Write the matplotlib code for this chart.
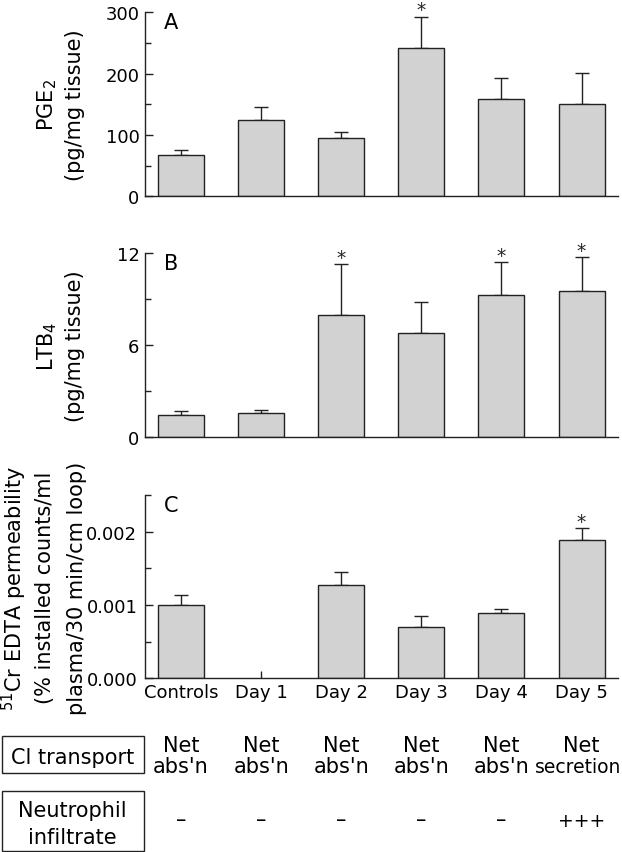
import numpy as np
import matplotlib
matplotlib.use("Agg")
import matplotlib.pyplot as plt
from matplotlib.patches import Rectangle
from matplotlib.ticker import MultipleLocator, FormatStrFormatter
import matplotlib.transforms as mtransforms

# data
groups = ["Controls", "Day 1", "Day 2", "Day 3", "Day 4", "Day 5"]

pge2 = [67, 124, 95, 241, 158, 150]
pge2_sem = [8, 21, 10, 52, 35, 51]
pge2_sig = [False, False, False, True, False, False]

ltb4 = [1.40, 1.53, 7.96, 6.81, 9.27, 9.53]
ltb4_sem = [0.30, 0.19, 3.34, 2.03, 2.14, 2.21]
ltb4_sig = [False, False, True, False, True, True]

edta = [0.00100, np.nan, 0.001277, 0.000695, 0.00089, 0.00188]
edta_sem = [0.00014, np.nan, 0.00017, 0.000155, 0.000055, 0.000165]
edta_sig = [False, False, False, False, False, True]

cl_transport = ["Net\nabs'n"] * 5 + ["Net\nsecretion"]
neutrophil = ["–", "–", "–", "–", "–", "+++"]

plt.rcParams['font.family'] = ['DejaVu Sans']
plt.rcParams['mathtext.fontset'] = 'dejavusans'

W, H = 622, 853
fig = plt.figure(figsize=(W / 100, H / 100), dpi=100)


def fx(px):
    return px / W


def fy(px):
    return 1 - px / H


dark = '#222222'
bar_col = '#d2d2d2'
x = np.arange(len(groups))

ax_left, ax_right = 145, 617.6


def make_axes(top, bottom):
    return fig.add_axes([fx(ax_left), fy(bottom), fx(ax_right - ax_left), (bottom - top) / H])


def draw_panel(ax, vals, sem, sig, ymax, major, minor, fmt, letter, pad):
    vals = np.array(vals, dtype=float)
    sem = np.array(sem, dtype=float)
    ok = ~np.isnan(vals)
    ax.bar(x[ok], vals[ok], width=0.575, color=bar_col, edgecolor=dark, linewidth=1.0, zorder=2)
    ax.errorbar(x[ok], vals[ok], yerr=[np.zeros(ok.sum()), sem[ok]], fmt='none',
                ecolor=dark, elinewidth=1.0, capsize=5, capthick=1.0, zorder=1.5)
    for i in range(len(groups)):
        if sig[i]:
            ax.annotate('*', (x[i], vals[i] + sem[i]), xytext=(0, 1), textcoords='offset points',
                        ha='center', va='baseline', fontsize=13.5, color=dark)
    ax.set_xlim(-0.45, 5.45)
    ax.set_ylim(0, ymax)
    ax.set_axisbelow(True)
    for s in ['top', 'right']:
        ax.spines[s].set_visible(False)
    for s in ['left', 'bottom']:
        ax.spines[s].set_color(dark)
        ax.spines[s].set_linewidth(1.0)
    ax.yaxis.set_major_locator(MultipleLocator(major))
    ax.yaxis.set_minor_locator(MultipleLocator(minor))
    ax.yaxis.set_major_formatter(FormatStrFormatter(fmt))
    ax.tick_params(axis='y', which='major', direction='in', length=5.5, width=1.0,
                   color=dark, labelsize=13, pad=pad)
    ax.tick_params(axis='y', which='minor', direction='in', length=4, width=1.0, color=dark)
    ax.set_xticks(x)
    ax.tick_params(axis='x', direction='in', length=5, width=1.0, color=dark, labelsize=13, pad=3.5)
    ax.text(0.04, 1.0, letter, transform=ax.transAxes, ha='left', va='top', fontsize=15)


axA = make_axes(13.3, 197.3)
draw_panel(axA, pge2, pge2_sem, pge2_sig, 300, 100, 50, '%d', 'A', 4)
axA.set_xticklabels([])

axB = make_axes(254.3, 437.7)
draw_panel(axB, ltb4, ltb4_sem, ltb4_sig, 12, 6, 3, '%d', 'B', 4)
axB.set_xticklabels([])

axC = make_axes(496, 679.3)
draw_panel(axC, edta, edta_sem, edta_sig, 0.0025, 0.001, 0.0005, '%.3f', 'C', 5.5)
axC.set_xticklabels(groups)

# y labels
fig.text(fx(47), fy(105.3), r'PGE$_2$', rotation=90, ha='center', va='center', fontsize=15)
fig.text(fx(75), fy(105.3), '(pg/mg tissue)', rotation=90, ha='center', va='center', fontsize=15)
fig.text(fx(47), fy(346), r'LTB$_4$', rotation=90, ha='center', va='center', fontsize=15)
fig.text(fx(75), fy(346), '(pg/mg tissue)', rotation=90, ha='center', va='center', fontsize=15)
fig.text(fx(14), fy(588), r'$^{51}$Cr EDTA permeability', rotation=90, ha='center', va='center', fontsize=15)
fig.text(fx(45), fy(588), '(% installed counts/ml', rotation=90, ha='center', va='center', fontsize=15)
fig.text(fx(77), fy(588), 'plasma/30 min/cm loop)', rotation=90, ha='center', va='center', fontsize=15)

# table below the chart
fig.add_artist(Rectangle((fx(1.5), fy(774.3)), fx(142.5), (774.3 - 736.7) / H,
                         transform=fig.transFigure, fill=False, edgecolor=dark, linewidth=1.0))
fig.add_artist(Rectangle((fx(1.5), fy(851.5)), fx(142.5), (851.5 - 792) / H,
                         transform=fig.transFigure, fill=False, edgecolor=dark, linewidth=1.0))
fig.text(fx(72.5), fy(764), 'Cl transport', ha='center', va='baseline', fontsize=15)
fig.text(fx(72.5), fy(817), 'Neutrophil', ha='center', va='baseline', fontsize=15)
fig.text(fx(72.5), fy(844), 'infiltrate', ha='center', va='baseline', fontsize=15)

trans = mtransforms.blended_transform_factory(axC.transData, fig.transFigure)
for i in range(len(groups)):
    top_line, bottom_line = cl_transport[i].split('\n')
    fig.text(x[i], fy(752), top_line, transform=trans, ha='center', va='baseline', fontsize=15)
    if len(bottom_line) > 6:
        # long word sits against the right edge, as in the reference
        fig.text(fx(621), fy(773), bottom_line, ha='right', va='baseline', fontsize=13.5)
    else:
        fig.text(x[i], fy(773), bottom_line, transform=trans, ha='center', va='baseline', fontsize=15)
    if neutrophil[i] == '+++':
        fig.text(x[i], fy(827.5), neutrophil[i], transform=trans, ha='center', va='baseline',
                 fontsize=13.5)
    else:
        fig.text(x[i], fy(826), neutrophil[i], transform=trans, ha='center', va='baseline', fontsize=15)

fig.savefig('out.png', dpi=100)
